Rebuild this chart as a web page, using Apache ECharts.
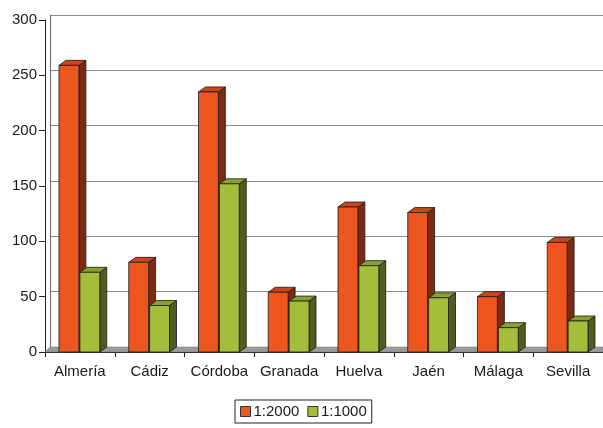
<!DOCTYPE html>
<html>
<head>
<meta charset="utf-8">
<script src="https://cdn.jsdelivr.net/npm/echarts@6/dist/echarts.min.js"></script>
<style>
  html, body { margin: 0; padding: 0; background: #fff; }
  #chart { width: 603px; height: 428px; }
</style>
</head>
<body>
<div id="chart"></div>
<script>
const categories = ['Almería', 'Cádiz', 'Córdoba', 'Granada', 'Huelva', 'Jaén', 'Málaga', 'Sevilla']
const legendNames = ['1:2000', '1:1000']
const values2000 = [259, 81, 235, 54, 131, 126, 50, 99]
const values1000 = [72, 42, 152, 46, 78, 49, 22, 28]
const yTicks = [0, 50, 100, 150, 200, 250, 300]

const faces = [
    { front: '#ee5620', side: '#7e2a12', top: '#cc4418' },
    { front: '#a4be3c', side: '#525c1e', top: '#8aa030' }
]
const depthX = 7, depthY = -5

function makeRender(seriesIdx) {
    return function (params, api) {
        let idx = api.value(0)
        let val = api.value(1)
        let top = api.coord([idx, val])
        let base = api.coord([idx, 0])
        let bw = api.size([1, 0])[0]
        let w = bw * 0.285
        let x0 = seriesIdx === 0 ? top[0] - w - 1 : top[0]
        let x1 = x0 + w
        let y0 = top[1], y1 = base[1]
        let c = faces[seriesIdx]
        let stroke = { stroke: '#1a1a1a', lineWidth: 0.8 }
        return {
            type: 'group',
            children: [
                { type: 'polygon', shape: { points: [[x1, y0], [x1 + depthX, y0 + depthY], [x1 + depthX, y1 + depthY], [x1, y1]] },
                  style: Object.assign({ fill: c.side }, stroke) },
                { type: 'polygon', shape: { points: [[x0, y0], [x0 + depthX, y0 + depthY], [x1 + depthX, y0 + depthY], [x1, y0]] },
                  style: Object.assign({ fill: c.top }, stroke) },
                { type: 'rect', shape: { x: x0, y: y0, width: w, height: y1 - y0 },
                  style: Object.assign({ fill: c.front }, stroke) }
            ]
        }
    }
}

let myChart = echarts.init(document.getElementById('chart'))
let seriesData = [values2000, values1000].map(function (vals, s) {
    return {
        name: legendNames[s],
        type: 'custom',
        xAxisIndex: 0,
        yAxisIndex: 0,
        z: 3,
        itemStyle: { color: faces[s].front },
        renderItem: makeRender(s),
        encode: { x: 0, y: 1 },
        data: vals.map(function (v, i) { return [i, v] })
    }
})

let option = {
    animation: false,
    textStyle: { fontFamily: 'Arial, "Liberation Sans", sans-serif' },
    grid: [
        { left: 45, right: 0, top: 20, bottom: 76 },
        { left: 50, right: 0, top: 15, bottom: 81 }
    ],
    legend: {
        data: legendNames,
        top: 400,
        left: 235,
        icon: 'rect',
        itemWidth: 10,
        itemHeight: 10,
        itemGap: 8,
        borderColor: '#222',
        borderWidth: 1,
        borderRadius: 0,
        padding: [4, 5, 4, 5],
        textStyle: { color: '#1a1a1a', fontSize: 15, padding: [0, 0, 0, -2] },
        itemStyle: { borderColor: '#333', borderWidth: 1 }
    },
    graphic: [{
        type: 'polygon',
        z: 1,
        shape: { points: [[45, 352], [50, 347], [603, 347], [603, 352]] },
        style: { fill: '#9a9a9a', stroke: '#777', lineWidth: 0.5 }
    }],
    xAxis: [{
        gridIndex: 0,
        type: 'category',
        data: categories,
        boundaryGap: true,
        axisLine: { lineStyle: { color: '#222', width: 1 } },
        axisTick: { show: true, length: 5, lineStyle: { color: '#222' } },
        axisLabel: { color: '#1a1a1a', fontSize: 15, margin: 12, interval: 0 }
    }, {
        gridIndex: 1,
        type: 'category',
        data: categories,
        show: false
    }],
    yAxis: [{
        gridIndex: 0,
        type: 'value',
        min: 0,
        max: 300,
        interval: 50,
        axisLine: { show: true, lineStyle: { color: '#222', width: 1 } },
        axisTick: { show: true, length: 6, lineStyle: { color: '#222' } },
        axisLabel: { color: '#1a1a1a', fontSize: 15, margin: 8,
            formatter: function (v) { return yTicks.indexOf(v) >= 0 ? v : '' } },
        splitLine: { show: false }
    }, {
        gridIndex: 1,
        type: 'value',
        min: 0,
        max: 300,
        interval: 50,
        axisLine: { show: true, lineStyle: { color: '#777', width: 1.2 } },
        axisTick: { show: false },
        axisLabel: { show: false },
        splitLine: { show: true, lineStyle: { color: '#8c8c8c', width: 1.2 } }
    }],
    series: seriesData
}
myChart.setOption(option)
window.addEventListener('resize', function () {
    myChart.resize()
})
</script>
</body>
</html>
